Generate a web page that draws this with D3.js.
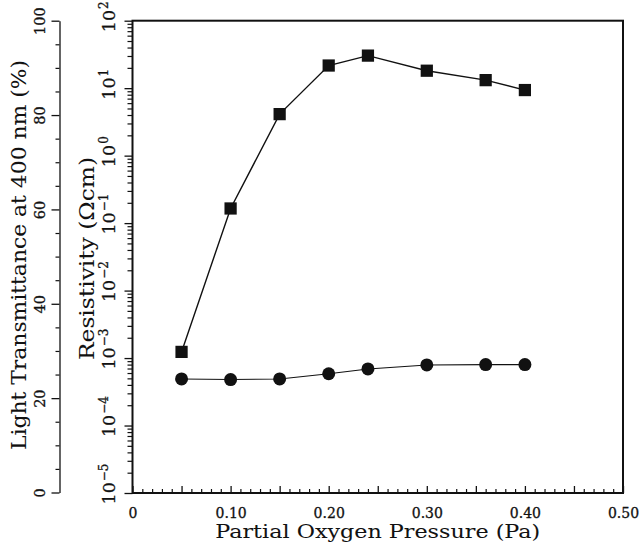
<!DOCTYPE html>
<html>
<head>
<meta charset="utf-8">
<script src="https://cdn.jsdelivr.net/npm/d3@7"></script>
<style>
  html, body { margin: 0; padding: 0; background: #fff; }
  svg { display: block; }
  text { font-family: "DejaVu Serif", "Liberation Serif", serif; fill: #111; stroke: #111; stroke-width: 0.3; }
  text.title { stroke-width: 0.05; }
</style>
</head>
<body>
<svg id="chart" width="644" height="552"></svg>
<script>
// ---- data ----
const pressure = [0.05, 0.10, 0.15, 0.20, 0.24, 0.30, 0.36, 0.40];           // Pa
const transmittance = [29.8, 60.2, 80.2, 90.5, 92.6, 89.4, 87.4, 85.3];      // % (squares)
const resistivity = [4.9e-4, 4.8e-4, 4.9e-4, 5.85e-4, 6.9e-4, 7.9e-4, 8.0e-4, 8.0e-4]; // Ω cm (circles)

const xTickValues = [0, 0.10, 0.20, 0.30, 0.40, 0.50];
const xTickLabels = ["0", "0.10", "0.20", "0.30", "0.40", "0.50"];
const tTickValues = [0, 20, 40, 60, 80, 100];
const rExponents = [-5, -4, -3, -2, -1, 0, 1, 2];

const xTitle = "Partial Oxygen Pressure (Pa)";
const tTitle = "Light Transmittance at 400 nm (%)";
const rTitle = "Resistivity (\u03A9cm)";

(function () {
// ---- layout ----
const svg = d3.select("#chart");
const pL = 132.5, pR = 623, pT = 20.7, pB = 493;
const tAxisX = 59.5;

const x = d3.scaleLinear().domain([0, 0.5]).range([pL, pR]);
const yT = d3.scaleLinear().domain([0, 100]).range([492.5, pT]);
const yR = d3.scaleLog().domain([1e-5, 1e2]).range([pB, pT]);

// ---- transmittance axis (outer left) ----
const tMinor = d3.range(0, 101, 5).filter(v => v % 20 !== 0);
svg.append("g").attr("transform", `translate(${tAxisX},0)`)
  .call(d3.axisLeft(yT).tickValues(tMinor).tickSize(4).tickFormat(""))
  .call(g => g.select(".domain").remove())
  .call(g => g.selectAll("line").attr("stroke", "#111").attr("stroke-width", 1.2));

const tAxis = svg.append("g").attr("transform", `translate(${tAxisX},0)`)
  .call(d3.axisLeft(yT).tickValues(tTickValues).tickSize(8).tickSizeOuter(0).tickFormat(d3.format("d")));
tAxis.select(".domain").attr("stroke", "#111").attr("stroke-width", 1.3);
tAxis.selectAll("line").attr("stroke", "#111").attr("stroke-width", 1.3);
tAxis.selectAll("text")
  .attr("transform", "rotate(-90)")
  .attr("x", 0).attr("y", -14.5).attr("dy", null)
  .attr("text-anchor", "middle")
  .attr("fill", "#111")
  .style("font-size", "14.5px").style("font-family", "DejaVu Serif");

// ---- resistivity axis (log, plot left edge) ----
const rAllTicks = yR.ticks();
const rMinor = rAllTicks.filter(v => Math.abs(Math.log10(v) - Math.round(Math.log10(v))) > 1e-6);
svg.append("g").attr("transform", `translate(${pL},0)`)
  .call(d3.axisLeft(yR).tickValues(rMinor).tickSize(5).tickFormat(""))
  .call(g => g.select(".domain").remove())
  .call(g => g.selectAll("line").attr("stroke", "#111").attr("stroke-width", 1.2));

const rMajor = rExponents.map(e => Math.pow(10, e));
const rAxis = svg.append("g").attr("transform", `translate(${pL},0)`)
  .call(d3.axisLeft(yR).tickValues(rMajor).tickSize(8).tickSizeOuter(0).tickFormat(""));
rAxis.select(".domain").remove();
rAxis.selectAll("line").attr("stroke", "#111").attr("stroke-width", 1.3);
rAxis.selectAll(".tick").each(function (d, i) {
  const t = d3.select(this).append("text")
    .attr("transform", "rotate(-90)")
    .attr("x", -11).attr("y", -17.5)
    .attr("text-anchor", "start")
    .attr("fill", "#111")
    .style("font-size", "17.5px").style("font-family", "DejaVu Serif");
  t.append("tspan").text("10");
  const e = rExponents[i];
  t.append("tspan")
    .attr("dy", "-0.6em").attr("dx", "1")
    .style("font-size", "12px")
    .text(e < 0 ? "\u2212" + Math.abs(e) : String(e));
});

// ---- x axis (ticks pointing inward) ----
const xMinor = d3.range(0, 51).map(v => v / 100).filter(v => Math.round(v * 100) % 5 !== 0);
const xMid = d3.range(0, 11).map(v => v * 0.05).filter(v => Math.round(v * 100) % 10 !== 0);
svg.append("g").attr("transform", `translate(0,${pB})`)
  .call(d3.axisBottom(x).tickValues(xMinor).tickSize(-4).tickFormat(""))
  .call(g => g.select(".domain").remove())
  .call(g => g.selectAll("line").attr("stroke", "#111").attr("stroke-width", 1.2));
svg.append("g").attr("transform", `translate(0,${pB})`)
  .call(d3.axisBottom(x).tickValues(xMid).tickSize(-7).tickFormat(""))
  .call(g => g.select(".domain").remove())
  .call(g => g.selectAll("line").attr("stroke", "#111").attr("stroke-width", 1.3));
const xAxis = svg.append("g").attr("transform", `translate(0,${pB})`)
  .call(d3.axisBottom(x).tickValues(xTickValues).tickSize(-7).tickSizeOuter(0)
        .tickFormat((d, i) => xTickLabels[i]).tickPadding(15));
xAxis.select(".domain").remove();
xAxis.selectAll("line").attr("stroke", "#111").attr("stroke-width", 1.3);
xAxis.selectAll("text")
  .attr("fill", "#111")
  .style("font-size", "14px").style("font-family", "DejaVu Serif");

// ---- frame ----
svg.append("rect")
  .attr("x", pL).attr("y", pT)
  .attr("width", pR - pL).attr("height", pB - pT)
  .attr("fill", "none").attr("stroke", "#111").attr("stroke-width", 2);

// ---- titles ----
svg.append("text").attr("class", "title")
  .attr("x", (pL + pR) / 2).attr("y", 538)
  .attr("text-anchor", "middle")
  .attr("textLength", 325).attr("lengthAdjust", "spacingAndGlyphs")
  .style("font-size", "19px")
  .text(xTitle);

svg.append("text").attr("class", "title")
  .attr("transform", `translate(25.5,255) rotate(-90)`)
  .attr("text-anchor", "middle")
  .attr("textLength", 390).attr("lengthAdjust", "spacingAndGlyphs")
  .style("font-size", "20px")
  .text(tTitle);

svg.append("text").attr("class", "title")
  .attr("transform", `translate(93.5,258.5) rotate(-90)`)
  .attr("text-anchor", "middle")
  .attr("textLength", 203).attr("lengthAdjust", "spacingAndGlyphs")
  .style("font-size", "20px")
  .text(rTitle);

// ---- series ----
const rData = pressure.map((p, i) => ({ x: p, y: resistivity[i] }));
const tData = pressure.map((p, i) => ({ x: p, y: transmittance[i] }));

svg.append("path")
  .datum(rData)
  .attr("fill", "none").attr("stroke", "#111").attr("stroke-width", 1.1)
  .attr("d", d3.line().x(d => x(d.x)).y(d => yR(d.y)));

svg.append("path")
  .datum(tData)
  .attr("fill", "none").attr("stroke", "#111").attr("stroke-width", 1.4)
  .attr("d", d3.line().x(d => x(d.x)).y(d => yT(d.y)));

svg.append("g").selectAll("circle")
  .data(rData).join("circle")
  .attr("cx", d => x(d.x)).attr("cy", d => yR(d.y))
  .attr("r", 6.5).attr("fill", "#111");

svg.append("g").selectAll("path")
  .data(tData).join("path")
  .attr("transform", d => `translate(${x(d.x)},${yT(d.y)})`)
  .attr("d", d3.symbol(d3.symbolSquare, 150)())
  .attr("fill", "#111");
})();
</script>
</body>
</html>
